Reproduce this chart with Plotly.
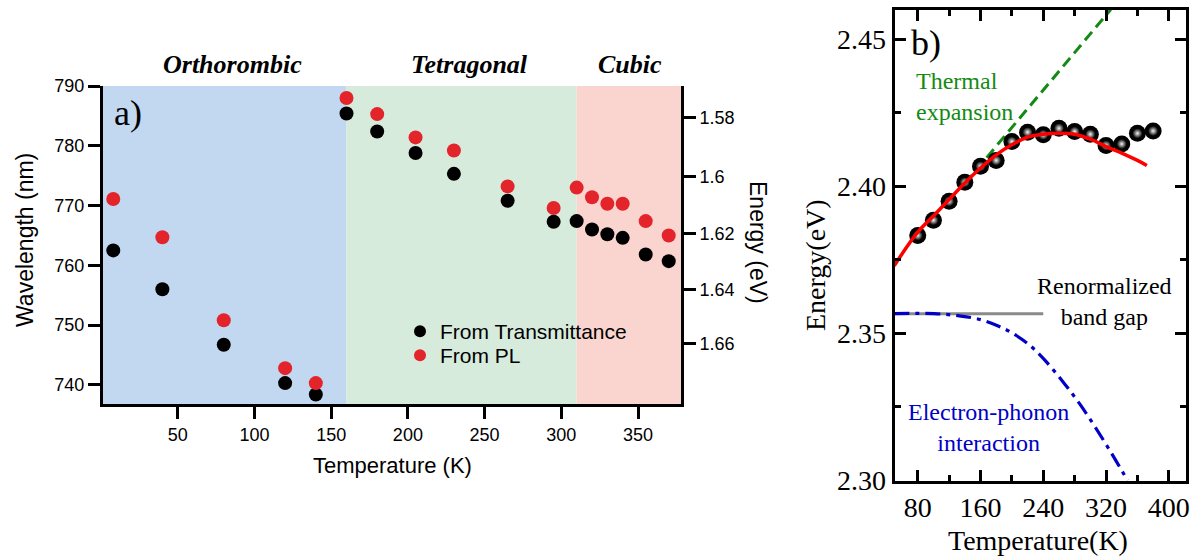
import plotly.graph_objects as go

# ---------------- Panel a) data ----------------
temps_a = [8, 40, 80, 120, 140, 160, 180, 205, 230, 265, 295, 310, 320, 330, 340, 355, 370]
wl_trans = [762.5, 756.0, 746.7, 740.3, 738.4, 785.4, 782.4, 778.8, 775.3, 770.8,
            767.3, 767.4, 766.0, 765.2, 764.6, 761.8, 760.7]
wl_pl = [771.1, 764.7, 750.8, 742.8, 740.3, 788.0, 785.3, 781.4, 779.2, 773.2,
         769.6, 773.0, 771.4, 770.3, 770.3, 767.4, 765.0]
phase_names = ["Orthorombic", "Tetragonal", "Cubic"]
phase_bounds = [1.3, 160, 310, 378]
phase_colors = ["#c2d8f0", "#d7ebdd", "#fad5cf"]
wl_ticks = [740, 750, 760, 770, 780, 790]
temp_ticks_a = [50, 100, 150, 200, 250, 300, 350]
energy_ticks = [1.58, 1.60, 1.62, 1.64, 1.66]
energy_tick_labels = ["1.58", "1.6", "1.62", "1.64", "1.66"]
HC = 1239.84  # eV*nm

# ---------------- Panel b) data ----------------
temps_b = [80, 100, 120, 140, 160, 180, 200, 220, 240, 260, 280, 300, 320, 340, 360, 380]
energy_b = [2.3833, 2.3885, 2.3949, 2.4014, 2.4068, 2.4088, 2.4152, 2.4184, 2.4175,
            2.4197, 2.4186, 2.4177, 2.4139, 2.4144, 2.4180, 2.4188]
fit_t = [50, 80, 100, 120, 140, 160, 180, 200, 220, 240, 260, 280, 300, 320, 340, 360, 372]
fit_e = [2.3730, 2.3844, 2.3899, 2.3955, 2.4011, 2.4062, 2.4107, 2.4141, 2.4167, 2.4177,
         2.4180, 2.4177, 2.4160, 2.4135, 2.4113, 2.4088, 2.4071]
thermal_t = [140, 326]
thermal_e = [2.4009, 2.4601]
renorm_t = [50, 240]
renorm_e = [2.3567, 2.3567]
eph_t = [50, 101, 135, 160, 181, 202, 223, 242, 265, 286, 307, 328, 347.4]
eph_e = [2.3567, 2.3567, 2.3559, 2.3547, 2.3527, 2.3499, 2.3459, 2.3409, 2.3336,
         2.3262, 2.3178, 2.3088, 2.3000]
energy_ticks_b = [2.30, 2.35, 2.40, 2.45]
temp_ticks_b = [80, 160, 240, 320, 400]

W, H = 1200, 559
SANS = "Arial, Liberation Sans, sans-serif"
SERIF = "Times New Roman, Liberation Serif, serif"

def px_x(p):
    return p / W

def px_y(p):
    return (H - p) / H

fig = go.Figure()

# Panel a traces
fig.add_trace(go.Scatter(x=temps_a, y=wl_trans, mode="markers", name="From Transmittance",
                         marker=dict(color="black", size=14), xaxis="x", yaxis="y",
                         legend="legend"))
fig.add_trace(go.Scatter(x=temps_a, y=wl_pl, mode="markers", name="From PL",
                         marker=dict(color="#e3242b", size=14), xaxis="x", yaxis="y",
                         legend="legend2"))
# invisible trace to carry the energy axis
fig.add_trace(go.Scatter(x=temps_a, y=wl_pl, mode="markers", showlegend=False,
                         marker=dict(opacity=0), hoverinfo="skip", xaxis="x", yaxis="y3"))

# Panel b traces
fig.add_trace(go.Scatter(x=thermal_t, y=thermal_e, mode="lines", showlegend=False,
                         line=dict(color="#138a13", width=3, dash="11px,6px"),
                         xaxis="x2", yaxis="y2"))
fig.add_trace(go.Scatter(x=renorm_t, y=renorm_e, mode="lines", showlegend=False,
                         line=dict(color="#8a8a8a", width=3), xaxis="x2", yaxis="y2"))
fig.add_trace(go.Scatter(x=eph_t, y=eph_e, mode="lines", showlegend=False, line_shape="spline",
                         line=dict(color="#0000c8", width=3.2, dash="15px,6px,4px,6px"),
                         xaxis="x2", yaxis="y2"))
fig.add_trace(go.Scatter(x=temps_b, y=energy_b, mode="markers", showlegend=False,
                         marker=dict(color="black", size=17), xaxis="x2", yaxis="y2"))
fig.add_trace(go.Scatter(x=temps_b, y=energy_b, mode="markers", showlegend=False,
                         marker=dict(color="black", size=10,
                                     gradient=dict(type="radial", color="#f4f4f4")),
                         hoverinfo="skip", xaxis="x2", yaxis="y2"))
fig.add_trace(go.Scatter(x=fit_t, y=fit_e, mode="lines", showlegend=False, line_shape="spline",
                         line=dict(color="#ff0000", width=3.5), xaxis="x2", yaxis="y2"))

# Phase background rectangles
shapes = []
for i in range(3):
    shapes.append(dict(type="rect", xref="x", yref="y domain", x0=phase_bounds[i],
                       x1=phase_bounds[i + 1], y0=0, y1=1, fillcolor=phase_colors[i],
                       line=dict(width=0), layer="below"))

def ann(text, x, y, size, family, color="black", angle=0, xanchor="center", align="center"):
    return dict(text=text, xref="paper", yref="paper", x=px_x(x), y=px_y(y), textangle=angle,
                xanchor=xanchor, yanchor="middle", align=align, showarrow=False,
                font=dict(family=family, size=size, color=color))

annotations = []
phase_px = [233, 469, 630]
for nm, xp in zip(phase_names, phase_px):
    annotations.append(ann("<b><i>" + nm + "</i></b>", xp, 65, 26, SERIF))
annotations += [
    ann("a)", 128, 113, 36, SERIF),
    ann("Wavelength (nm)", 25, 240, 23, SANS, angle=-90),
    ann("Energy (eV)", 758, 242, 23, SANS, angle=90),
    ann("Temperature (K)", 392, 465, 22, SANS),
    ann("b)", 926, 43, 36, SERIF),
    ann("Thermal<br>expansion", 914, 96, 24, SERIF, color="#138a13", xanchor="left", align="left"),
    ann("Renormalized<br>band gap", 1104, 301, 24, SERIF),
    ann("Electron-phonon<br>interaction", 988, 427, 24, SERIF, color="#0000c8"),
    ann("Energy(eV)", 815, 265, 28, SERIF, angle=-90),
    ann("Temperature(K)", 1038, 540, 28, SERIF),
]

axis_a = dict(showline=True, linewidth=3, linecolor="black", ticks="outside", ticklen=12,
              tickwidth=3, tickcolor="black", showgrid=False, zeroline=False, automargin=False,
              tickfont=dict(family=SANS, size=18, color="black"))
axis_b = dict(showline=True, linewidth=3, linecolor="black", ticks="inside", ticklen=11,
              tickwidth=2.5, tickcolor="black", showgrid=False, zeroline=False, mirror="allticks",
              automargin=False, tickfont=dict(family=SERIF, size=28, color="black"))

legend_style = dict(xanchor="left", yanchor="top", bgcolor="rgba(0,0,0,0)",
                    font=dict(family=SANS, size=21, color="black"), itemsizing="constant")

fig.update_layout(
    width=W, height=H, margin=dict(l=0, r=0, t=0, b=0, pad=0, autoexpand=False),
    paper_bgcolor="white", plot_bgcolor="rgba(0,0,0,0)",
    showlegend=True,
    legend=dict(legend_style, x=px_x(400), y=px_y(311)),
    legend2=dict(legend_style, x=px_x(400), y=px_y(335)),
    xaxis=dict(axis_a, domain=[px_x(103), px_x(681)], range=[phase_bounds[0], phase_bounds[-1]],
               tickvals=temp_ticks_a, anchor="y"),
    yaxis=dict(axis_a, domain=[px_y(404), px_y(86)], range=[736.8, 790], tickvals=wl_ticks,
               anchor="x"),
    yaxis3=dict(axis_a, overlaying="y", side="right", anchor="x", range=[736.8, 790],
                tickvals=[HC / e for e in energy_ticks], ticktext=energy_tick_labels),
    xaxis2=dict(axis_b, domain=[px_x(894.5), px_x(1186)], range=[50.4, 421.9],
                tickvals=temp_ticks_b, anchor="y2",
                minor=dict(dtick=40, tick0=0, ticks="inside", ticklen=6, tickwidth=2.5,
                           tickcolor="black")),
    yaxis2=dict(axis_b, domain=[px_y(480.5), px_y(9.5)], range=[2.30, 2.4601],
                tickvals=energy_ticks_b, tickformat=".2f", anchor="x2",
                minor=dict(dtick=0.025, tick0=2.30, ticks="inside", ticklen=6, tickwidth=2.5,
                           tickcolor="black")),
    shapes=shapes,
    annotations=annotations,
)

fig.write_html("out.html")
